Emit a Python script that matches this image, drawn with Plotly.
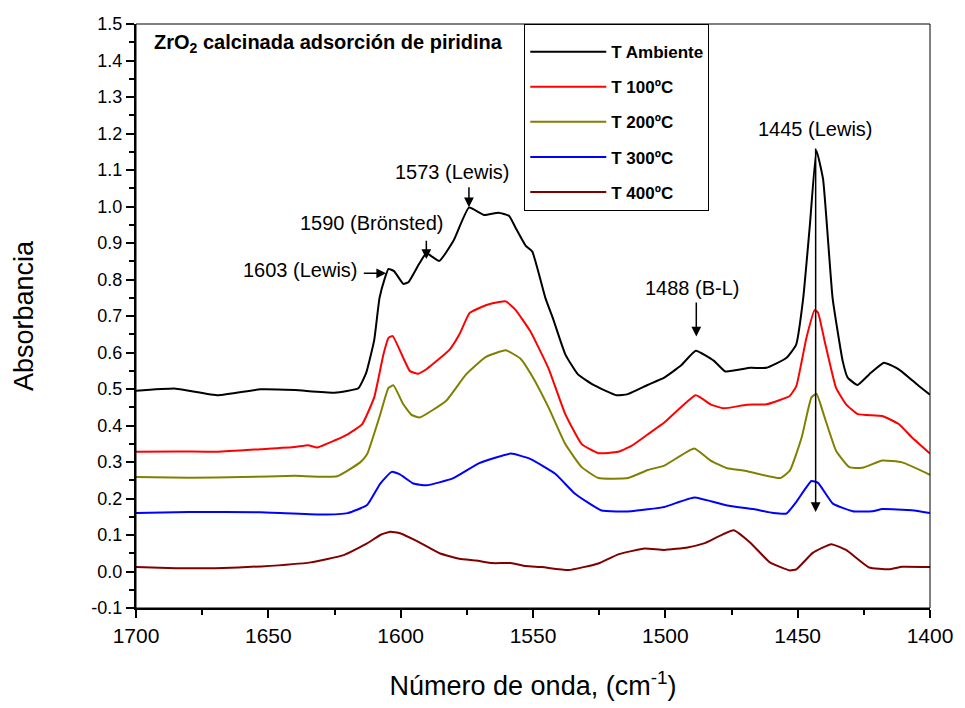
import plotly.graph_objects as go

# ---------------- data ----------------
series_names = ["T Ambiente", "T 100ºC", "T 200ºC", "T 300ºC", "T 400ºC"]
series_colors = ["#000000", "#FF0000", "#808000", "#0000FF", "#800000"]

x_amb = [1700, 1685, 1669, 1653, 1640, 1625, 1616, 1613, 1610, 1608, 1606, 1604.6, 1602.5, 1599, 1597, 1593,
         1590.3, 1585.4, 1580, 1574.2, 1568.5, 1563, 1559, 1556.6, 1552.8, 1550.3, 1545.3, 1542.5, 1537.8, 1533,
         1526.6, 1518.5, 1514.2, 1506.7, 1500.4, 1494, 1488.5, 1481.6, 1477.3, 1467.9, 1461.8, 1454.3, 1450.6,
         1447.9, 1445.4, 1442.9, 1440.4, 1436.8, 1433, 1431.1, 1427.4, 1423, 1417.4, 1411.8, 1404.3, 1400]
y_amb = [0.495, 0.501, 0.483, 0.499, 0.497, 0.49, 0.502, 0.545, 0.634, 0.749, 0.803, 0.829, 0.823, 0.788, 0.793, 0.843,
         0.872, 0.851, 0.907, 0.997, 0.977, 0.983, 0.974, 0.942, 0.893, 0.877, 0.749, 0.694, 0.595, 0.54,
         0.509, 0.483, 0.486, 0.511, 0.531, 0.565, 0.605, 0.577, 0.548, 0.558, 0.558, 0.585, 0.621,
         0.749, 0.948, 1.153, 1.075, 0.749, 0.577, 0.531, 0.511, 0.54, 0.572, 0.554, 0.509, 0.484]

x_100 = [1700, 1684, 1669, 1653, 1640, 1635, 1631.5, 1625, 1620, 1614.6, 1610, 1606.5, 1604.6, 1603, 1599, 1596.5,
         1593.4, 1590.3, 1581.5, 1577.8, 1574, 1570.3, 1565.3, 1560.3, 1556.6, 1551, 1548.4, 1544, 1537.8, 1531.6,
         1525.3, 1517.8, 1512.8, 1506.6, 1500.4, 1488.5, 1482.9, 1477.9, 1469.2, 1461.7, 1453, 1450.5, 1446.7,
         1443.6, 1442.3, 1439.8, 1435.5, 1431.7, 1427.3, 1418, 1411.8, 1406.8, 1400]
y_100 = [0.328, 0.329, 0.328, 0.335, 0.341, 0.346, 0.34, 0.359, 0.376, 0.403, 0.477, 0.595, 0.64, 0.645, 0.585, 0.549,
         0.542, 0.554, 0.608, 0.65, 0.708, 0.722, 0.735, 0.74, 0.717, 0.658, 0.621, 0.554, 0.431, 0.349,
         0.324, 0.328, 0.344, 0.376, 0.408, 0.483, 0.458, 0.447, 0.457, 0.458, 0.481, 0.508, 0.64,
         0.716, 0.709, 0.631, 0.503, 0.458, 0.431, 0.426, 0.404, 0.367, 0.323]

x_200 = [1700, 1680, 1660, 1640, 1624, 1615.3, 1612.7, 1607.7, 1604.6, 1602.7, 1599, 1595.9, 1592.8, 1582.8,
         1575.3, 1567.8, 1560.3, 1554.7, 1550.3, 1544.1, 1537.8, 1531.6, 1525.3, 1514.1, 1506.6, 1500.4, 1489.1,
         1482.9, 1476.6, 1470.4, 1456.6, 1452.9, 1448.5, 1444.8, 1442.9, 1439.8, 1435.5, 1430.5, 1425.5, 1418,
         1410.5, 1400]
y_200 = [0.259, 0.257, 0.259, 0.262, 0.261, 0.299, 0.321, 0.431, 0.503, 0.51, 0.458, 0.429, 0.422, 0.468,
         0.54, 0.588, 0.606, 0.583, 0.535, 0.449, 0.349, 0.286, 0.256, 0.256, 0.278, 0.29, 0.337,
         0.304, 0.283, 0.277, 0.256, 0.277, 0.367, 0.477, 0.487, 0.422, 0.331, 0.286, 0.284, 0.304,
         0.299, 0.265]

x_300 = [1700, 1680, 1653, 1630, 1620, 1612.7, 1607.7, 1603.4, 1600.3, 1595.2, 1590.3, 1580.3, 1570.3, 1558.4,
         1550.9, 1541.6, 1534.1, 1524.1, 1512.9, 1500.4, 1489.1, 1476.6, 1466.7, 1459.2, 1454.2, 1450.5, 1444.8,
         1442.3, 1436.7, 1429.2, 1421.7, 1418, 1406.8, 1400]
y_300 = [0.16, 0.163, 0.162, 0.156, 0.16, 0.182, 0.241, 0.273, 0.266, 0.241, 0.236, 0.255, 0.297, 0.323,
         0.308, 0.268, 0.213, 0.167, 0.165, 0.177, 0.203, 0.181, 0.171, 0.16, 0.159, 0.191, 0.248,
         0.243, 0.186, 0.165, 0.165, 0.171, 0.168, 0.16]

x_400 = [1700, 1685, 1670, 1652.7, 1634, 1621.5, 1612.7, 1607.7, 1604, 1600.3, 1594, 1585.3, 1577.8, 1571.5,
         1565.3, 1558.4, 1552.8, 1546.6, 1536.6, 1525.3, 1517.8, 1507.8, 1500.4, 1491.6, 1485.4, 1474.2, 1467.9,
         1460.5, 1453, 1450.5, 1444.3, 1437.3, 1431.7, 1423, 1415.5, 1410.5, 1400]
y_400 = [0.012, 0.009, 0.009, 0.014, 0.025, 0.045, 0.077, 0.1, 0.109, 0.105, 0.084, 0.05, 0.035, 0.03,
         0.023, 0.023, 0.015, 0.012, 0.004, 0.022, 0.047, 0.063, 0.059, 0.066, 0.077, 0.113, 0.079,
         0.025, 0.003, 0.006, 0.051, 0.075, 0.059, 0.011, 0.006, 0.013, 0.012]

series_x = [x_amb, x_100, x_200, x_300, x_400]
series_y = [y_amb, y_100, y_200, y_300, y_400]

# peak labels: text, text x, text y, arrow head (x, y), arrow tail (x, y)
peak_labels = ["1603 (Lewis)", "1590 (Brönsted)", "1573 (Lewis)", "1488 (B-L)", "1445 (Lewis)"]
label_x = [1615.5, 1611.2, 1580.6, 1489.9, 1443.3]
label_y = [0.825, 0.954, 1.094, 0.776, 1.212]
head_x = [1605.5, 1590.3, 1574.2, 1488.3, 1443.2]
head_y = [0.817, 0.856, 0.998, 0.644, 0.163]
tail_x = [1614.5, 1590.3, 1574.2, 1488.3, 1443.2]
tail_y = [0.817, 0.910, 1.057, 0.741, 1.163]

x_ticks = [1700, 1650, 1600, 1550, 1500, 1450, 1400]
y_ticks = [round(-0.1 + 0.1 * i, 1) for i in range(17)]

FONT = "Liberation Sans"

fig = go.Figure()
for i, (nm, col) in enumerate(zip(series_names, series_colors)):
    fig.add_trace(go.Scatter(
        x=series_x[i], y=series_y[i], mode="lines", name=nm,
        line=dict(color=col, width=2, shape="spline", smoothing=0.4),
        legendgroup=f"g{i}",
    ))

annotations = [dict(
    text="<b>ZrO<sub>2</sub> calcinada adsorción de piridina</b>",
    xref="paper", yref="paper", x=0.02, y=0.992, xanchor="left", yanchor="top",
    showarrow=False, font=dict(family=FONT, size=20, color="black"),
)]
for i, t in enumerate(peak_labels):
    annotations.append(dict(
        text=t, x=label_x[i], y=label_y[i], xref="x", yref="y",
        xanchor="right" if i == 0 else "center", yanchor="middle",
        showarrow=False, font=dict(family=FONT, size=20, color="black"),
    ))
    annotations.append(dict(
        text="", x=head_x[i], y=head_y[i], ax=tail_x[i], ay=tail_y[i],
        xref="x", yref="y", axref="x", ayref="y",
        showarrow=True, arrowhead=2, arrowsize=1.3, arrowwidth=1.5, arrowcolor="black",
    ))

fig.update_layout(
    width=965, height=708,
    margin=dict(l=136, r=27, t=24, b=96),
    paper_bgcolor="white", plot_bgcolor="white",
    font=dict(family=FONT, color="black"),
    showlegend=True,
    legend=dict(
        x=0.489, y=1.0, xanchor="left", yanchor="top",
        bordercolor="black", borderwidth=1, bgcolor="white",
        font=dict(family=FONT, size=17, color="black", weight="bold"),
        itemwidth=76, tracegroupgap=10, traceorder="grouped",
        title=dict(text=" ", font=dict(size=7)),
    ),
    annotations=annotations,
    shapes=[dict(type="rect", xref="paper", yref="paper", x0=0, y0=0, x1=1, y1=1,
                 line=dict(color="black", width=1), layer="above")],
    xaxis=dict(
        range=[1700, 1400], tickvals=x_ticks, ticktext=[str(v) for v in x_ticks],
        ticks="outside", ticklen=8, tickwidth=1.5, tickcolor="black",
        showline=True, linecolor="black", linewidth=2, showgrid=False, zeroline=False,
        tickfont=dict(family=FONT, size=21, color="black"),
        minor=dict(dtick=25, ticks="outside", ticklen=5, tickwidth=1.5, tickcolor="black", showgrid=False),
        title=dict(text="Número de onda, (cm<sup>-1</sup>)", font=dict(family=FONT, size=27, color="black"), standoff=30),
    ),
    yaxis=dict(
        range=[-0.1, 1.5], tickvals=y_ticks, ticktext=[f"{v:.1f}" for v in y_ticks],
        ticks="outside", ticklen=8, tickwidth=1.5, tickcolor="black",
        showline=True, linecolor="black", linewidth=2, showgrid=False, zeroline=False,
        tickfont=dict(family=FONT, size=18, color="black"),
        minor=dict(dtick=0.05, ticks="outside", ticklen=5, tickwidth=1.5, tickcolor="black", showgrid=False),
        title=dict(text="Absorbancia", font=dict(family=FONT, size=27, color="black"), standoff=50),
    ),
)

fig.write_html("out.html")
